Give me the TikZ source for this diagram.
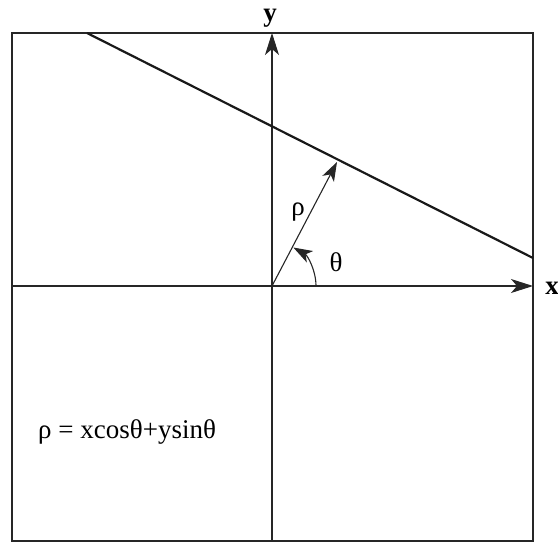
\documentclass[tikz,border=0pt]{standalone}
\usepackage{fontspec}
\setmainfont{Liberation Serif}
\usetikzlibrary{arrows.meta}
\begin{document}
\begin{tikzpicture}[x=1pt,y=-1pt,
  thin line/.style={line width=1.1pt, draw=black!85},
  axis/.style={thin line, -{Stealth[length=22pt,width=14pt,inset=6pt]}},
  vec/.style={thin line, -{Stealth[length=19pt,width=13pt,inset=5pt]}},
  hline/.style={line width=2.2pt, draw=black!90},
  lbl/.style={inner sep=0pt, font=\fontsize{27}{32}\selectfont},
  axlbl/.style={inner sep=0pt, anchor=base, font=\fontsize{27}{32}\selectfont\bfseries}]
\useasboundingbox (0,0) rectangle (558,542);
\coordinate (O) at (272,286);
\coordinate (TL) at (12,33);
\coordinate (BR) at (533,541);
\coordinate (xstart) at (12,286);
\coordinate (xend) at (533,286);
\coordinate (ystart) at (272,541);
\coordinate (yend) at (272,33);
\coordinate (L1) at (87,33);
\coordinate (L2) at (533,258);
\coordinate (P) at (337,162);
\draw[thin line] (TL) rectangle (BR);
\draw[axis] (xstart) -- (xend);
\draw[axis] (ystart) -- (yend);
\draw[hline] (L1) -- (L2);
\draw[vec] (O) -- (P);
\draw[vec] ([shift={(0:44)}]O) arc[start angle=0, end angle=-61, radius=44];
\node[axlbl] (ylab) at (270,21) {y};
\node[axlbl] (xlab) at (552,294) {x};
\node[lbl] (rho) at (298,212) {ρ};
\node[lbl] (theta) at (336,262) {θ};
\node[lbl, anchor=west] (eq) at (38,432) {ρ = xcosθ+ysinθ};
\end{tikzpicture}
\end{document}
